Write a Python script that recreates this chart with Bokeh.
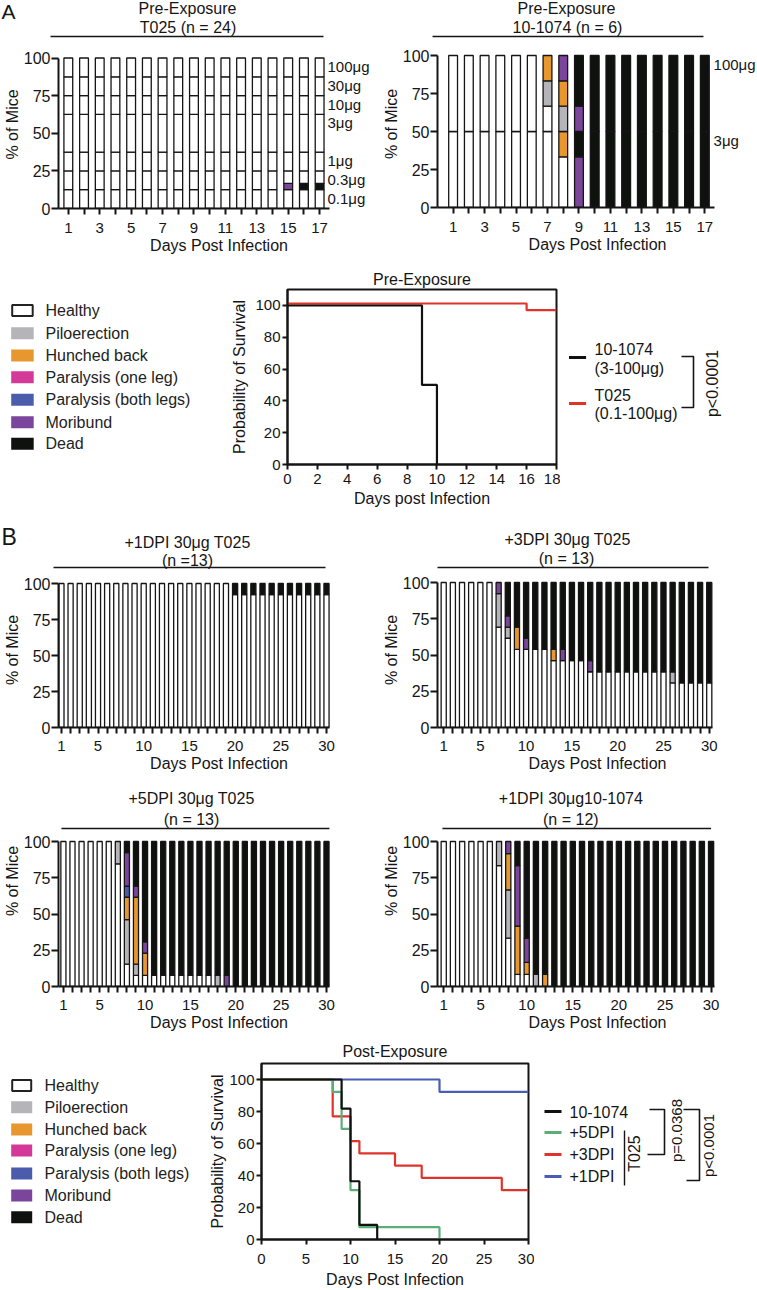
import math
from bokeh.plotting import figure
from bokeh.models import Range1d, FixedTicker, ColumnDataSource
from bokeh.layouts import row, column
from bokeh.embed import file_html
from bokeh.resources import INLINE
from bokeh.core.properties import value
from bokeh.transform import dodge

# ======================= DATA =======================
STATE_NAMES = ["Healthy", "Piloerection", "Hunched back", "Paralysis (one leg)",
               "Paralysis (both legs)", "Moribund", "Dead"]
STATE_CODES = ["H", "P", "B", "L", "T", "M", "D"]
STATE_COLORS = ["#ffffff", "#b4b4b9", "#e8972e", "#d4399a", "#4b5cad", "#7a459b", "#0f110f"]

# ---- Panel A: pre-exposure, per dose group, state of each mouse (bottom -> top), days 1..17
PRE_DAYS = [1, 2, 3, 4, 5, 6, 7, 8, 9, 10, 11, 12, 13, 14, 15, 16, 17]
PRE_TICK_LABELS = [1, 3, 5, 7, 9, 11, 13, 15, 17]

PRE_T025_GROUPS = ["0.1μg", "0.3μg", "1μg", "3μg", "10μg", "30μg", "100μg"]
PRE_T025_STATES = {
    "0.1μg": "HHH HHH HHH HHH HHH HHH HHH HHH HHH HHH HHH HHH HHH HHH HHH HHH HHH",
    "0.3μg": "HHH HHH HHH HHH HHH HHH HHH HHH HHH HHH HHH HHH HHH HHH MHH DHH DHH",
    "1μg":   "HHH HHH HHH HHH HHH HHH HHH HHH HHH HHH HHH HHH HHH HHH HHH HHH HHH",
    "3μg":   "HHHHHH HHHHHH HHHHHH HHHHHH HHHHHH HHHHHH HHHHHH HHHHHH HHHHHH HHHHHH "
             "HHHHHH HHHHHH HHHHHH HHHHHH HHHHHH HHHHHH HHHHHH",
    "10μg":  "HHH HHH HHH HHH HHH HHH HHH HHH HHH HHH HHH HHH HHH HHH HHH HHH HHH",
    "30μg":  "HHH HHH HHH HHH HHH HHH HHH HHH HHH HHH HHH HHH HHH HHH HHH HHH HHH",
    "100μg": "HHH HHH HHH HHH HHH HHH HHH HHH HHH HHH HHH HHH HHH HHH HHH HHH HHH",
}
PRE_1074_GROUPS = ["3μg", "100μg"]
PRE_1074_STATES = {
    "3μg":   "HHH HHH HHH HHH HHH HHH HHH HHB MMD DDD DDD DDD DDD DDD DDD DDD DDD",
    "100μg": "HHH HHH HHH HHH HHH HHH HPB PBM MDD DDD DDD DDD DDD DDD DDD DDD DDD",
}

# ---- Panel B: post-exposure, number of mice per state, days 1..30
POST_DAYS = [1, 2, 3, 4, 5, 6, 7, 8, 9, 10, 11, 12, 13, 14, 15, 16, 17, 18, 19, 20,
             21, 22, 23, 24, 25, 26, 27, 28, 29, 30]
POST_TICK_LABELS = [1, 5, 10, 15, 20, 25, 30]

T025_1DPI = {
    "H": [13, 13, 13, 13, 13, 13, 13, 13, 13, 13, 13, 13, 13, 13, 13, 13, 13, 13, 13, 12,
          12, 12, 12, 12, 12, 12, 12, 12, 12, 12],
    "D": [0, 0, 0, 0, 0, 0, 0, 0, 0, 0, 0, 0, 0, 0, 0, 0, 0, 0, 0, 1,
          1, 1, 1, 1, 1, 1, 1, 1, 1, 1],
}
T025_3DPI = {
    "H": [13, 13, 13, 13, 13, 13, 9, 8, 7, 7, 7, 7, 6, 6, 6, 6, 5, 5, 5, 5,
          5, 5, 5, 5, 5, 4, 4, 4, 4, 4],
    "P": [0, 0, 0, 0, 0, 0, 3, 1, 0, 0, 0, 0, 0, 0, 0, 0, 0, 0, 0, 0,
          0, 0, 0, 0, 0, 1, 0, 0, 0, 0],
    "B": [0, 0, 0, 0, 0, 0, 0, 0, 2, 0, 0, 0, 1, 0, 0, 0, 0, 0, 0, 0,
          0, 0, 0, 0, 0, 0, 0, 0, 0, 0],
    "M": [0, 0, 0, 0, 0, 0, 1, 1, 0, 1, 0, 0, 0, 1, 0, 0, 1, 0, 0, 0,
          0, 0, 0, 0, 0, 0, 0, 0, 0, 0],
    "D": [0, 0, 0, 0, 0, 0, 0, 3, 4, 5, 6, 6, 6, 6, 7, 7, 7, 8, 8, 8,
          8, 8, 8, 8, 8, 8, 9, 9, 9, 9],
}
T025_5DPI = {
    "H": [13, 13, 13, 13, 13, 13, 11, 2, 1, 1, 1, 1, 1, 1, 1, 1, 1, 0, 0, 0,
          0, 0, 0, 0, 0, 0, 0, 0, 0, 0],
    "P": [0, 0, 0, 0, 0, 0, 2, 4, 1, 0, 0, 0, 0, 0, 0, 0, 0, 1, 0, 0,
          0, 0, 0, 0, 0, 0, 0, 0, 0, 0],
    "B": [0, 0, 0, 0, 0, 0, 0, 2, 6, 2, 0, 0, 0, 0, 0, 0, 0, 0, 0, 0,
          0, 0, 0, 0, 0, 0, 0, 0, 0, 0],
    "T": [0, 0, 0, 0, 0, 0, 0, 1, 0, 0, 0, 0, 0, 0, 0, 0, 0, 0, 0, 0,
          0, 0, 0, 0, 0, 0, 0, 0, 0, 0],
    "M": [0, 0, 0, 0, 0, 0, 0, 3, 1, 1, 0, 0, 0, 0, 0, 0, 0, 0, 1, 0,
          0, 0, 0, 0, 0, 0, 0, 0, 0, 0],
    "D": [0, 0, 0, 0, 0, 0, 0, 1, 4, 9, 12, 12, 12, 12, 12, 12, 12, 12, 12, 13,
          13, 13, 13, 13, 13, 13, 13, 13, 13, 13],
}
MAB1074_1DPI = {
    "H": [12, 12, 12, 12, 12, 12, 10, 4, 1, 1, 0, 0, 0, 0, 0, 0, 0, 0, 0, 0,
          0, 0, 0, 0, 0, 0, 0, 0, 0, 0],
    "P": [0, 0, 0, 0, 0, 0, 2, 4, 0, 0, 1, 0, 0, 0, 0, 0, 0, 0, 0, 0,
          0, 0, 0, 0, 0, 0, 0, 0, 0, 0],
    "B": [0, 0, 0, 0, 0, 0, 0, 3, 4, 1, 0, 1, 0, 0, 0, 0, 0, 0, 0, 0,
          0, 0, 0, 0, 0, 0, 0, 0, 0, 0],
    "M": [0, 0, 0, 0, 0, 0, 0, 1, 5, 2, 0, 0, 0, 0, 0, 0, 0, 0, 0, 0,
          0, 0, 0, 0, 0, 0, 0, 0, 0, 0],
    "D": [0, 0, 0, 0, 0, 0, 0, 0, 2, 8, 11, 11, 12, 12, 12, 12, 12, 12, 12, 12,
          12, 12, 12, 12, 12, 12, 12, 12, 12, 12],
}

# ---- Kaplan-Meier curves (time of step, survival % after the step)
PRE_KM_1074_T = [0, 9, 10]
PRE_KM_1074_S = [100, 50, 0]
PRE_KM_T025_T = [0, 16, 18]
PRE_KM_T025_S = [100, 95.8, 95.8]
PRE_KM_LABELS = [("10-1074", "(3-100μg)"), ("T025", "(0.1-100μg)")]

POST_KM_1074_T = [0, 9, 10, 11, 13]
POST_KM_1074_S = [100, 81.8, 36.4, 9.1, 0]
POST_KM_5DPI_T = [0, 8, 9, 10, 11, 20]
POST_KM_5DPI_S = [100, 92.3, 69.2, 30.8, 7.7, 0]
POST_KM_3DPI_T = [0, 8, 10, 11, 15, 18, 27, 30]
POST_KM_3DPI_S = [100, 76.9, 61.5, 53.8, 46.2, 38.5, 30.8, 30.8]
POST_KM_1DPI_T = [0, 20, 30]
POST_KM_1DPI_S = [100, 92.3, 92.3]
POST_KM_LABELS = ["10-1074", "+5DPI", "+3DPI", "+1DPI"]

# ======================= STYLE / LAYOUT =======================
FONT = "Liberation Sans"
INK = "#151515"
K_BLACK, K_RED, K_GREEN, K_BLUE = "#111111", "#e0342b", "#5cae78", "#4a5db4"


def new_fig(w, h, xr, yr, ml, mr, mt, mb, title=None, axes=True):
    kw = {}
    if not axes:
        kw = dict(x_axis_type=None, y_axis_type=None)
    p = figure(width=w, height=h, x_range=xr, y_range=yr, min_border_left=ml,
               min_border_right=mr, min_border_top=mt, min_border_bottom=mb,
               toolbar_location=None, output_backend="svg", title=title, **kw)
    p.frame_align = False
    p.grid.visible = False
    p.outline_line_color = None
    return p


def style_axis(ax, label, tick_size="15px", tick_out=6, standoff=3, label_standoff=0):
    ax.axis_label = label
    ax.axis_label_text_font = FONT
    ax.axis_label_text_font_size = "16px"
    ax.axis_label_text_font_style = "normal"
    ax.axis_label_text_color = INK
    ax.major_label_text_font = FONT
    ax.major_label_text_font_size = tick_size
    ax.major_label_text_color = INK
    ax.axis_line_width = 2
    ax.axis_line_color = INK
    ax.major_tick_line_width = 2
    ax.major_tick_line_color = INK
    ax.major_tick_out = tick_out
    ax.major_tick_in = 0
    ax.minor_tick_line_color = None
    ax.major_label_standoff = standoff
    ax.axis_label_standoff = label_standoff


def txt(p, x, y, s, size="16px", angle=0.0, align="left"):
    p.text(x=[x], y=[y], text=[s], text_font=value(FONT), text_font_size=size,
           text_color=INK, text_align=align, text_baseline="middle", angle=angle)


def segs_groups(days, groups, states):
    n_total = sum(len(states[g].split()[0]) for g in groups)
    unit = 100.0 / n_total
    xs, b, t, c = [], [], [], []
    for i, d in enumerate(days):
        base = 0.0
        for g in groups:
            codes = states[g].split()[i]
            j = 0
            while j < len(codes):
                k = j
                while k < len(codes) and codes[k] == codes[j]:
                    k += 1
                xs.append(d)
                b.append(base + j * unit)
                t.append(base + k * unit)
                c.append(STATE_COLORS[STATE_CODES.index(codes[j])])
                j = k
            base += len(codes) * unit
    tops, acc = [], 0.0
    for g in groups:
        acc += len(states[g].split()[0]) * unit
        tops.append(acc)
    return xs, b, t, c, tops


def segs_counts(days, counts):
    n_total = sum(counts[k][0] for k in counts)
    unit = 100.0 / n_total
    xs, b, t, c = [], [], [], []
    for i, d in enumerate(days):
        base = 0.0
        for code, col in zip(STATE_CODES, STATE_COLORS):
            if code in counts and counts[code][i] > 0:
                xs.append(d)
                b.append(base)
                t.append(base + counts[code][i] * unit)
                c.append(col)
                base += counts[code][i] * unit
    return xs, b, t, c


def bar_panel(ox, oy, w, h, ref, days, tick_labels, segs, titles=(), right=None):
    """ref holds reference-pixel layout positions; the frame top is the figure top."""
    fl = round(ref["axis_x"] - ox)
    fb = round(ref["y0"] - oy)
    ppd = (ref["day_last"] - ref["day_first"]) / (days[-1] - days[0])
    x0 = days[0] - (ref["day_first"] - (ox + fl)) / ppd
    x1 = x0 + (w - fl) / ppd
    ppu = (ref["y0"] - ref["y100"]) / 100.0
    y1 = fb / ppu
    p = new_fig(w, h, Range1d(x0, x1), Range1d(0, y1), fl, 0, 0, h - fb)

    def xd(rx):
        return x0 + (rx - (ox + fl)) / ppd

    def yd(ry):
        return (oy + fb - ry) / ppu

    xs, b, t, c = segs[:4]
    p.vbar(x=xs, bottom=b, top=t, width=0.56, fill_color=c, line_color=INK, line_width=1.3)
    if titles:
        for s, ry in titles:
            txt(p, xd(ref["title_x"]), yd(ry), s, align="center")
        p.line([xd(ref["line_x0"]), xd(ref["line_x1"])], [yd(ref["line_y"])] * 2,
               line_width=1.6, color=INK)
    if right is not None:
        names, tops = right
        p.text(x=[xd(ref["label_x"])] * len(names), y=tops, text=names,
               text_font=value(FONT), text_font_size="15px", text_color=INK,
               text_align="left", text_baseline="top")
    xa = p.xaxis[0]
    ya = p.yaxis[0]
    style_axis(xa, "Days Post Infection", tick_size="15px", tick_out=6,
               standoff=ref["xstand"], label_standoff=ref["xlstand"])
    xa.ticker = FixedTicker(ticks=days)
    xa.major_label_overrides = {d: "" for d in days if d not in tick_labels}
    xa.bounds = (x0, xd(ref["axis_end"]))
    style_axis(ya, "% of Mice", tick_size="16px", tick_out=7, standoff=1, label_standoff=0)
    ya.ticker = FixedTicker(ticks=[0, 25, 50, 75, 100])
    ya.bounds = (0, 100)
    return p


def surv_panel(ox, oy, w, h, ref, x_end, xticks, title, xlabel):
    fl = round(ref["left"] - ox)
    fr = round(ref["right"] - ox)
    ft = round(ref["top"] - oy)
    fb = round(ref["bottom"] - oy)
    p = new_fig(w, h, Range1d(0, x_end), Range1d(0, 110), fl, w - fr, ft, h - fb, title=title)
    p.outline_line_color = INK
    p.outline_line_width = 2
    p.title.align = "center"
    p.title.text_font = FONT
    p.title.text_font_size = "16px"
    p.title.text_font_style = "normal"
    p.title.text_color = INK
    p.title.standoff = ref["tstand"]
    xa = p.xaxis[0]
    ya = p.yaxis[0]
    style_axis(xa, xlabel, tick_size="15px", tick_out=5, standoff=ref["xstand"],
               label_standoff=ref["xlstand"])
    xa.ticker = FixedTicker(ticks=xticks)
    style_axis(ya, "Probability of Survival", tick_size="15px", tick_out=5, standoff=2,
               label_standoff=ref["ylstand"])
    ya.ticker = FixedTicker(ticks=[0, 20, 40, 60, 80, 100])
    return p


def blank(ox, oy, w, h):
    return new_fig(w, h, Range1d(ox, ox + w), Range1d(oy + h, oy), 0, 0, 0, 0, axes=False)


def state_legend(ox, oy, w, h, rows_y, rx0, rx1, tx):
    p = blank(ox, oy, w, h)
    xc = (rx0 + rx1) / 2
    rw = rx1 - rx0
    p.rect(x=[xc] * 6, y=rows_y[1:], width=rw, height=12, fill_color=STATE_COLORS[1:],
           line_color=None)
    p.rect(x=[xc], y=rows_y[:1], width=rw - 2, height=11, fill_color=STATE_COLORS[0],
           line_color="#222222", line_width=2)
    p.text(x=[tx] * 7, y=rows_y, text=STATE_NAMES, text_font=value(FONT),
           text_font_size="16px", text_color="#222222", text_align="left",
           text_baseline="middle")
    return p


# ======================= panel A: titles strip + bar charts =======================
STRIP_A = blank(0, 0, 757, 40)
txt(STRIP_A, 1, 10.8, "A", size="21px")
txt(STRIP_A, 187, 7.5, "Pre-Exposure", align="center")
txt(STRIP_A, 187.5, 27, "T025 (n = 24)", align="center")
STRIP_A.line([50, 323], [36, 36], line_width=1.6, color=INK)
txt(STRIP_A, 566, 7.5, "Pre-Exposure", align="center")
txt(STRIP_A, 567, 27, "10-1074 (n = 6)", align="center")
STRIP_A.line([432, 703], [36, 36], line_width=1.6, color=INK)

R1Y, R1H = 40, 217
REF_A1 = dict(axis_x=52, day_first=62, day_last=318, y100=57, y0=207.5, axis_end=328,
              label_x=326, xstand=8, xlstand=1)
REF_A2 = dict(axis_x=429, day_first=445, day_last=703, y100=55, y0=207, axis_end=713,
              label_x=712, xstand=8, xlstand=1)
sA1 = segs_groups(PRE_DAYS, PRE_T025_GROUPS, PRE_T025_STATES)
A1 = bar_panel(0, R1Y, 379, R1H, REF_A1, PRE_DAYS, PRE_TICK_LABELS, sA1,
               right=(PRE_T025_GROUPS, sA1[4]))
sA2 = segs_groups(PRE_DAYS, PRE_1074_GROUPS, PRE_1074_STATES)
A2 = bar_panel(379, R1Y, 378, R1H, REF_A2, PRE_DAYS, PRE_TICK_LABELS, sA2,
               right=(PRE_1074_GROUPS, sA2[4]))

# ======================= panel A: survival =======================
R2Y, R2H = 257, 253
LEGA = state_legend(0, R2Y, 200, R2H, [310, 332.7, 355, 376.7, 399.3, 421.7, 443.3],
                    10.7, 33.2, 45)
REF_SA = dict(left=287, right=556, top=289, bottom=464, tstand=3, xstand=4, xlstand=3,
              ylstand=4)
SA = surv_panel(200, R2Y, 360, R2H, REF_SA, 18, [0, 2, 4, 6, 8, 10, 12, 14, 16, 18],
                "Pre-Exposure", "Days post Infection")
SA.step(PRE_KM_1074_T, PRE_KM_1074_S, mode="after", line_width=2.2, color=K_BLACK)
src_t025 = ColumnDataSource(dict(t=PRE_KM_T025_T, s=PRE_KM_T025_S))
SA.step(x="t", y=dodge("s", 1.2), source=src_t025, mode="after", line_width=2.2, color=K_RED)

LSA = blank(560, R2Y, 197, R2H)
for (l1, l2), col, ly, ty in zip(PRE_KM_LABELS, [K_BLACK, K_RED], [357, 403],
                                 [(348, 368), (395, 413)]):
    LSA.line([568.5, 585.6], [ly, ly], line_width=3, color=col)
    txt(LSA, 594, ty[0], l1)
    txt(LSA, 594, ty[1], l2)
LSA.line([681, 693, 693, 681], [356, 356, 407, 407], line_width=1.6, color=INK)
txt(LSA, 712, 383, "p<0.0001", angle=math.pi / 2, align="center")

# ======================= panel B: titles strip + bar charts =======================
STRIP_B = blank(0, 510, 757, 62)
txt(STRIP_B, 1, 536.7, "B", size="23px")
txt(STRIP_B, 187, 542.3, "+1DPI 30μg T025", align="center")
txt(STRIP_B, 187, 560, "(n =13)", align="center")
STRIP_B.line([53, 325], [567, 567], line_width=1.6, color=INK)
txt(STRIP_B, 567, 538.9, "+3DPI 30μg T025", align="center")
txt(STRIP_B, 566, 558, "(n = 13)", align="center")
STRIP_B.line([437, 708], [567, 567], line_width=1.6, color=INK)

R3Y, R3H = 572, 203
R4Y, R4H = 775, 259
REF_B1 = dict(axis_x=52, day_first=55, day_last=325, y100=583, y0=727, axis_end=328,
              xstand=7, xlstand=1)
REF_B2 = dict(axis_x=431.7, day_first=438.3, day_last=708, y100=582, y0=727, axis_end=711,
              xstand=7, xlstand=1)
REF_B3 = dict(axis_x=52, day_first=57, day_last=325, y100=841, y0=986, axis_end=328,
              line_y=828, line_x0=55, line_x1=328, title_x=187.5, xstand=7, xlstand=1)
REF_B4 = dict(axis_x=433.3, day_first=439.3, day_last=710, y100=841, y0=986, axis_end=713,
              line_y=828, line_x0=438, line_x1=710, title_x=568, xstand=7, xlstand=1)

B1 = bar_panel(0, R3Y, 379, R3H, REF_B1, POST_DAYS, POST_TICK_LABELS,
               segs_counts(POST_DAYS, T025_1DPI))
B2 = bar_panel(379, R3Y, 378, R3H, REF_B2, POST_DAYS, POST_TICK_LABELS,
               segs_counts(POST_DAYS, T025_3DPI))
B3 = bar_panel(0, R4Y, 379, R4H, REF_B3, POST_DAYS, POST_TICK_LABELS,
               segs_counts(POST_DAYS, T025_5DPI),
               titles=[("+5DPI 30μg T025", 798), ("(n = 13)", 819)])
B4 = bar_panel(379, R4Y, 378, R4H, REF_B4, POST_DAYS, POST_TICK_LABELS,
               segs_counts(POST_DAYS, MAB1074_1DPI),
               titles=[("+1DPI 30μg10-1074", 798), ("(n = 12)", 819)])

# ======================= panel B: survival =======================
R5Y, R5H = 1034, 256
LEGB = state_legend(0, R5Y, 204, R5H, [1085, 1106.7, 1129, 1150, 1173, 1195, 1216.7],
                    10.7, 31.7, 44)
REF_SB = dict(left=261, right=528, top=1063, bottom=1240, tstand=7, xstand=9, xlstand=4,
              ylstand=0)
SB = surv_panel(204, R5Y, 330, R5H, REF_SB, 30, [0, 5, 10, 15, 20, 25, 30],
                "Post-Exposure", "Days Post Infection")
SB.step(POST_KM_1DPI_T, POST_KM_1DPI_S, mode="after", line_width=2.2, color=K_BLUE)
SB.step(POST_KM_3DPI_T, POST_KM_3DPI_S, mode="after", line_width=2.2, color=K_RED)
SB.step(POST_KM_5DPI_T, POST_KM_5DPI_S, mode="after", line_width=2.2, color=K_GREEN)
SB.step(POST_KM_1074_T, POST_KM_1074_S, mode="after", line_width=2.2, color=K_BLACK)

LSB = blank(534, R5Y, 223, R5H)
for lab, col, ry in zip(POST_KM_LABELS, [K_BLACK, K_GREEN, K_RED, K_BLUE],
                        [1111, 1132, 1154, 1176]):
    LSB.line([544, 561], [ry, ry], line_width=3, color=col)
    txt(LSB, 569, ry, lab)
LSB.line([624, 624], [1130, 1185], line_width=1.4, color=INK)
txt(LSB, 634, 1153, "T025", angle=math.pi / 2, align="center")
LSB.line([649, 664, 664, 647], [1109, 1109, 1154, 1154], line_width=1.6, color=INK)
txt(LSB, 676, 1130, "p=0.0368", size="15px", angle=math.pi / 2, align="center")
LSB.line([683, 699, 699, 686], [1109, 1109, 1180, 1180], line_width=1.6, color=INK)
txt(LSB, 708, 1145, "p<0.0001", size="15px", angle=math.pi / 2, align="center")

layout = column(
    STRIP_A,
    row(A1, A2),
    row(LEGA, SA, LSA),
    STRIP_B,
    row(B1, B2),
    row(B3, B4),
    row(LEGB, SB, LSB),
)

open("out.html", "w").write(file_html(layout, INLINE))
